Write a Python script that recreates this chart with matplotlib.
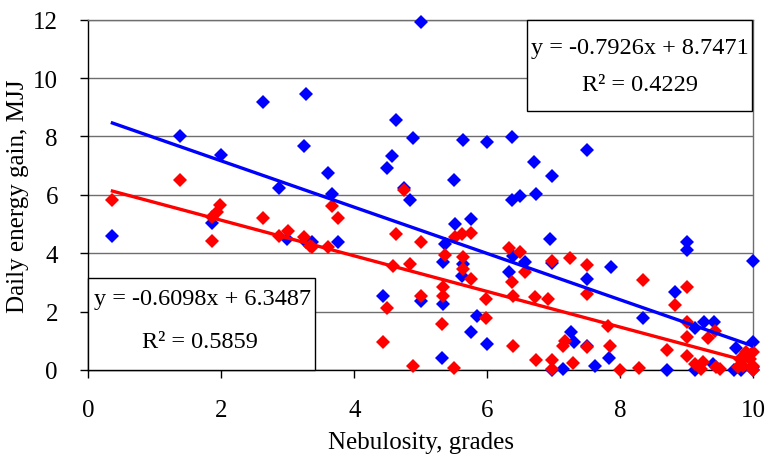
import matplotlib
matplotlib.use("Agg")
import matplotlib.pyplot as plt
from matplotlib.patches import Rectangle
import numpy as np

plt.rcParams['font.family'] = ['Liberation Serif', 'DejaVu Serif']

# Series 1 (blue)
blue_x = [0.36, 1.38, 2.0, 1.86, 2.62, 2.86, 2.99, 3.24, 3.27, 3.28, 3.37, 3.61, 3.67, 3.76,
          4.43, 4.49, 4.57, 4.63, 4.75, 4.84, 4.88, 5.0, 5.01, 5.32, 5.33, 5.33, 5.37, 5.5,
          5.52, 5.63, 5.63, 5.62, 5.75, 5.75, 5.84, 5.99, 5.99, 6.33, 6.38, 6.38, 6.39, 6.49,
          6.57, 6.71, 6.74, 6.98, 6.95, 6.98, 6.98, 7.14, 7.26, 7.3, 7.5, 7.5, 7.5, 7.62,
          7.84, 7.86, 8.35, 8.7, 8.82, 9.0, 9.0, 9.12, 9.12, 9.27, 9.42, 9.4, 9.72, 9.75,
          9.82, 10.0, 10.0, 10.0, 10.0]
blue_y = [4.6, 8.0, 7.35, 5.02, 9.18, 6.22, 4.49, 7.68, 9.46, 4.38, 4.37, 6.74, 6.03, 4.4,
          2.55, 6.92, 7.34, 8.57, 6.23, 5.82, 7.95, 11.93, 2.37, 0.42, 2.26, 3.71, 4.32, 6.51,
          5.0, 7.88, 3.63, 3.21, 5.17, 1.31, 1.86, 7.82, 0.89, 3.35, 7.97, 5.82, 3.91, 5.97,
          3.69, 7.12, 6.03, 6.65, 4.49, 3.66, 0.0, 0.03, 1.31, 0.95, 7.53, 3.12, 0.83, 0.15,
          0.4, 3.52, 1.78, 0.0, 2.68, 4.37, 4.12, 1.43, 0.0, 1.66, 1.66, 0.21, 0.0, 0.74,
          0.0, 3.72, 0.97, 0.0, 0.1]

# Series 2 (red)
red_x = [0.36, 1.38, 1.98, 1.93, 1.86, 1.86, 2.62, 2.86, 3.01, 3.24, 3.33, 3.37, 3.61, 3.67,
         3.76, 4.43, 4.49, 4.58, 4.63, 4.75, 4.84, 4.88, 5.0, 5.0, 5.32, 5.33, 5.33, 5.37,
         5.5, 5.52, 5.62, 5.63, 5.63, 5.75, 5.75, 5.98, 5.98, 6.33, 6.38, 6.39, 6.39, 6.49,
         6.57, 6.72, 6.74, 6.92, 6.98, 6.98, 6.98, 7.14, 7.17, 7.25, 7.29, 7.5, 7.5, 7.5,
         7.82, 7.85, 8.0, 8.28, 8.34, 8.7, 8.82, 9.0, 9.0, 9.0, 9.0, 9.13, 9.22, 9.25,
         9.33, 9.43, 9.45, 9.5, 9.78, 9.8, 9.85, 9.9, 9.95, 10.0, 10.0, 10.0]
red_y = [5.82, 6.51, 5.65, 5.4, 5.23, 4.41, 5.22, 4.58, 4.75, 4.54, 4.26, 4.2, 4.2, 5.63,
         5.21, 0.97, 2.12, 3.57, 4.66, 6.17, 3.63, 0.13, 4.4, 2.55, 1.58, 2.52, 2.83, 3.94,
         0.08, 4.54, 4.66, 3.86, 3.46, 4.69, 3.12, 2.43, 1.78, 4.17, 3.02, 2.52, 0.83, 4.03,
         3.35, 2.49, 0.35, 2.43, 3.74, 0.35, 0.03, 0.83, 1.0, 3.84, 0.23, 3.61, 2.6, 0.78,
         1.52, 0.83, 0.0, 0.06, 3.08, 0.68, 2.23, 2.83, 1.66, 1.12, 0.49, 0.21, 0.03, 0.26,
         1.09, 1.35, 0.09, 0.03, 0.09, 0.38, 0.15, 0.6, 0.38, 0.6, 0.15, 0.0]

# Trendline coefficients (from the chart's equations)
blue_slope, blue_intercept, blue_r2 = -0.7926, 8.7471, 0.4229
red_slope, red_intercept, red_r2 = -0.6098, 6.3487, 0.5859

x_ticks = [0, 2, 4, 6, 8, 10]
y_ticks = [0, 2, 4, 6, 8, 10, 12]

fig = plt.figure(figsize=(7.66, 4.60), dpi=100)
ax = fig.add_axes([0.1155, 0.1935, 0.8675, 0.7615])

ax.set_xlim(0, 10)
ax.set_ylim(0, 12)
ax.set_xticks(x_ticks)
ax.set_yticks(y_ticks)
ax.yaxis.grid(True, color='#6e6e6e', linewidth=1.0)
ax.set_axisbelow(True)

ax.plot(blue_x, blue_y, linestyle='none', marker='D', ms=7.6, color='#0000FF',
        markeredgewidth=0, clip_on=False, zorder=3)
ax.plot(red_x, red_y, linestyle='none', marker='D', ms=7.6, color='#FF0000',
        markeredgewidth=0, clip_on=False, zorder=4)

xb = np.array([min(blue_x), 10.0])
ax.plot(xb, blue_slope * xb + blue_intercept, color='#0000FF', lw=2.4, zorder=5)
xr = np.array([min(red_x), 10.0])
ax.plot(xr, red_slope * xr + red_intercept, color='#FF0000', lw=2.4, zorder=5)

for side in ['left', 'bottom']:
    ax.spines[side].set_color('black')
    ax.spines[side].set_linewidth(1.0)
for side in ['right', 'top']:
    ax.spines[side].set_color('#6e6e6e')
    ax.spines[side].set_linewidth(1.0)

ax.tick_params(axis='both', direction='out', length=6, width=1, labelsize=18, color='black')
ax.tick_params(axis='x', pad=15)
ax.tick_params(axis='y', pad=16)

ax.set_xlabel('Nebulosity, grades', fontsize=18, labelpad=7)
ax.set_ylabel('Daily energy gain, MJJ', fontsize=18, labelpad=3)

# Equation boxes
ax.add_patch(Rectangle((0.0, 0.0), 0.341, 0.263, transform=ax.transAxes,
                       facecolor='white', edgecolor='black', lw=1.0, zorder=6, clip_on=False))
ax.text(0.171, 0.203, f'y = {red_slope:.4f}x + {red_intercept:.4f}', transform=ax.transAxes,
        ha='center', va='center', fontsize=17.5, zorder=7)
ax.text(0.168, 0.08, f'R² = {red_r2:.4f}', transform=ax.transAxes,
        ha='center', va='center', fontsize=17.5, zorder=7)

ax.add_patch(Rectangle((0.66, 0.739), 0.3385, 0.261, transform=ax.transAxes,
                       facecolor='white', edgecolor='black', lw=1.0, zorder=6, clip_on=False))
ax.text(0.83, 0.922, f'y = {blue_slope:.4f}x + {blue_intercept:.4f}', transform=ax.transAxes,
        ha='center', va='center', fontsize=17.5, zorder=7)
ax.text(0.83, 0.814, f'R² = {blue_r2:.4f}', transform=ax.transAxes,
        ha='center', va='center', fontsize=17.5, zorder=7)

fig.savefig('out.png', dpi=100)
